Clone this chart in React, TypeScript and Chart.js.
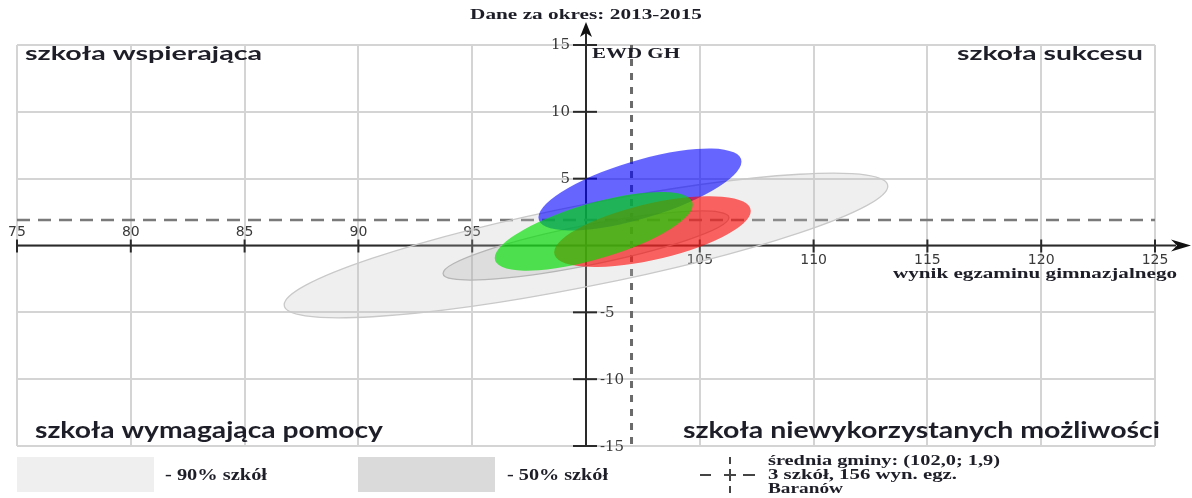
import React, { useEffect, useRef } from 'react';
import { Chart, registerables } from 'chart.js';

Chart.register(...registerables);

// ---------- data ----------
const xMin = 75;
const xMax = 125;
const xStep = 5;
const yMin = -15;
const yMax = 15;
const yStep = 5;

const ellipseLabels = ['90% szkół', '50% szkół', 'szkoła 1', 'szkoła 2', 'szkoła 3'];
const ellipseCenterX = [100, 100, 102.37, 102.92, 100.34];
const ellipseCenterY = [0, 0, 4.19, 1.04, 1.06];
// half of the horizontal span (x units) and the y rise at the span end (conjugate semi-diameter)
const ellipseHalfSpanX = [13.26, 6.28, 4.46, 4.32, 4.35];
const ellipseRiseY = [4.44, 2.09, 2.08, 1.55, 1.99];
// half of the vertical chord through the centre (y units)
const ellipseHalfChordY = [3.1, 1.52, 2.25, 2.15, 2.17];

const meanX = 102.0;
const meanY = 1.9;

const titleText = 'Dane za okres: 2013-2015';
const yAxisTitle = 'EWD GH';
const xAxisTitle = 'wynik egzaminu gimnazjalnego';
const quadrantLabels = [
  'szkoła wspierająca',
  'szkoła sukcesu',
  'szkoła wymagająca pomocy',
  'szkoła niewykorzystanych możliwości',
];
const legendBoxLabels = ['- 90% szkół', '- 50% szkół'];
const legendMeanLines = ['średnia gminy: (102,0; 1,9)', '3 szkół, 156 wyn. egz.', 'Baranów'];

// ---------- styles ----------
const ellipseFill = [
  'rgba(190,190,190,0.25)',
  'rgba(150,150,150,0.2)',
  'rgba(0,0,255,0.6)',
  'rgba(255,0,0,0.6)',
  'rgba(0,225,0,0.65)',
];
const ellipseStroke = ['#c9c9c9', '#b6b6b6', null, null, null];
const legendBoxColors = ['#efefef', '#dadada'];

const W = 1192;
const H = 498;

type TextSpec = {
  text: string;
  x: number;
  y: number;
  font: string;
  align: CanvasTextAlign;
  width: number;
  color: string;
};

function drawFitText(ctx: CanvasRenderingContext2D, t: TextSpec) {
  ctx.save();
  ctx.font = t.font;
  ctx.fillStyle = t.color;
  ctx.textBaseline = 'alphabetic';
  ctx.textAlign = t.align;
  const m = ctx.measureText(t.text).width;
  const sx = m > 0 ? t.width / m : 1;
  ctx.translate(t.x, t.y);
  ctx.scale(sx, 1);
  ctx.fillText(t.text, 0, 0);
  ctx.restore();
}

const serifBold = (s: number) => `bold ${s}px "Liberation Serif", "DejaVu Serif", serif`;
const sansBold = (s: number) => `bold ${s}px Lato, "Open Sans", sans-serif`;

const axesPlugin = {
  id: 'customAxes',
  beforeDatasetsDraw(chart: any) {
    const ctx: CanvasRenderingContext2D = chart.ctx;
    const xs = chart.scales.x;
    const ys = chart.scales.y;
    const area = chart.chartArea;
    const x0 = xs.getPixelForValue(100);
    const y0 = ys.getPixelForValue(0);
    ctx.save();
    ctx.strokeStyle = '#2a2a2a';
    ctx.fillStyle = '#111';
    ctx.lineWidth = 2;
    // x axis
    ctx.beginPath();
    ctx.moveTo(area.left, y0);
    ctx.lineTo(W - 16, y0);
    ctx.stroke();
    ctx.beginPath();
    ctx.moveTo(W - 1, y0);
    ctx.lineTo(W - 21, y0 - 6);
    ctx.lineTo(W - 15, y0);
    ctx.lineTo(W - 21, y0 + 6);
    ctx.closePath();
    ctx.fill();
    // y axis
    ctx.beginPath();
    ctx.moveTo(x0, area.bottom);
    ctx.lineTo(x0, 32);
    ctx.stroke();
    ctx.beginPath();
    ctx.moveTo(x0, 22);
    ctx.lineTo(x0 - 6, 37);
    ctx.lineTo(x0, 33);
    ctx.lineTo(x0 + 6, 37);
    ctx.closePath();
    ctx.fill();
    // ticks
    for (let v = xMin; v <= xMax; v += xStep) {
      if (v === 100) continue;
      const px = xs.getPixelForValue(v);
      ctx.beginPath();
      ctx.moveTo(px, y0 - 6);
      ctx.lineTo(px, y0 + 7);
      ctx.stroke();
    }
    for (let v = yMin; v <= yMax; v += yStep) {
      if (v === 0) continue;
      const py = ys.getPixelForValue(v);
      ctx.beginPath();
      ctx.moveTo(x0 - 13, py);
      ctx.lineTo(x0 + 11, py);
      ctx.stroke();
    }
    // tick labels
    ctx.fillStyle = '#3a3a3a';
    ctx.font = '14px "DejaVu Sans", sans-serif';
    ctx.textAlign = 'center';
    ctx.textBaseline = 'middle';
    for (let v = xMin; v <= xMax; v += xStep) {
      if (v === 100) continue;
      const px = xs.getPixelForValue(v);
      ctx.fillText(String(v), px, v < 100 ? y0 - 13 : y0 + 15);
    }
    ctx.font = '15px "DejaVu Serif", serif';
    for (let v = yMin; v <= yMax; v += yStep) {
      if (v === 0) continue;
      const py = ys.getPixelForValue(v);
      if (v > 0) {
        ctx.textAlign = 'right';
        ctx.fillText(String(v), x0 - 16, py);
      } else {
        ctx.textAlign = 'left';
        ctx.fillText(String(v), x0 + 14, py + 1);
      }
    }
    ctx.restore();
  },
  afterDatasetsDraw(chart: any) {
    const ctx: CanvasRenderingContext2D = chart.ctx;
    const xs = chart.scales.x;
    const ys = chart.scales.y;
    ctx.save();
    for (let i = 0; i < ellipseLabels.length; i++) {
      const cx = xs.getPixelForValue(ellipseCenterX[i]);
      const cy = ys.getPixelForValue(ellipseCenterY[i]);
      const ux = xs.getPixelForValue(ellipseCenterX[i] + ellipseHalfSpanX[i]) - cx;
      const uy = ys.getPixelForValue(ellipseCenterY[i] + ellipseRiseY[i]) - cy;
      const vy = ys.getPixelForValue(ellipseCenterY[i] - ellipseHalfChordY[i]) - cy;
      ctx.save();
      ctx.transform(ux, uy, 0, vy, cx, cy);
      ctx.beginPath();
      ctx.arc(0, 0, 1, 0, Math.PI * 2);
      ctx.restore();
      ctx.fillStyle = ellipseFill[i];
      ctx.fill();
      const st = ellipseStroke[i];
      if (st) {
        ctx.strokeStyle = st;
        ctx.lineWidth = 1.3;
        ctx.stroke();
      }
    }
    ctx.restore();
  },
  afterDraw(chart: any) {
    const ctx: CanvasRenderingContext2D = chart.ctx;
    const dark = '#1e1e28';
    const texts: TextSpec[] = [
      { text: titleText, x: 586, y: 19, font: serifBold(15), align: 'center', width: 232, color: dark },
      { text: yAxisTitle, x: 592, y: 58, font: serifBold(14), align: 'left', width: 88, color: dark },
      { text: xAxisTitle, x: 1177, y: 278, font: serifBold(15), align: 'right', width: 284, color: dark },
      { text: quadrantLabels[0], x: 25, y: 60, font: sansBold(19), align: 'left', width: 237, color: dark },
      { text: quadrantLabels[1], x: 1143, y: 60, font: sansBold(19), align: 'right', width: 186, color: dark },
      { text: quadrantLabels[2], x: 35, y: 438, font: sansBold(22), align: 'left', width: 348, color: dark },
      { text: quadrantLabels[3], x: 1160, y: 438, font: sansBold(22), align: 'right', width: 477, color: dark },
      { text: legendBoxLabels[0], x: 165, y: 480, font: serifBold(16), align: 'left', width: 102, color: dark },
      { text: legendBoxLabels[1], x: 507, y: 480, font: serifBold(16), align: 'left', width: 101, color: dark },
      { text: legendMeanLines[0], x: 768, y: 465, font: serifBold(15), align: 'left', width: 232, color: dark },
      { text: legendMeanLines[1], x: 768, y: 479, font: serifBold(15), align: 'left', width: 189, color: dark },
      { text: legendMeanLines[2], x: 768, y: 493, font: serifBold(15), align: 'left', width: 75, color: dark },
    ];
    ctx.save();
    // legend boxes
    ctx.fillStyle = legendBoxColors[0];
    ctx.fillRect(17, 457, 137, 35);
    ctx.fillStyle = legendBoxColors[1];
    ctx.fillRect(358, 457, 137, 35);
    // legend mean cross
    ctx.strokeStyle = '#444';
    ctx.lineWidth = 2;
    const segs: [number, number, number, number][] = [
      [730, 457, 730, 464],
      [730, 469, 730, 481],
      [730, 486, 730, 493],
      [700, 475, 711, 475],
      [724, 475, 736, 475],
      [743, 475, 755, 475],
    ];
    segs.forEach(([a, b, c, d]) => {
      ctx.beginPath();
      ctx.moveTo(a, b);
      ctx.lineTo(c, d);
      ctx.stroke();
    });
    ctx.restore();
    texts.forEach((t) => drawFitText(ctx, t));
  },
};

export default function App() {
  const ref = useRef<HTMLCanvasElement | null>(null);
  useEffect(() => {
    const canvas = ref.current;
    if (!canvas) return;
    const ellipseDatasets = ellipseLabels.map((label, i) => ({
      type: 'scatter' as const,
      label,
      data: [{ x: ellipseCenterX[i], y: ellipseCenterY[i] }],
      pointRadius: 0,
      showLine: false,
    }));
    const chart = new Chart(canvas, {
      type: 'scatter',
      data: {
        datasets: [
          ...ellipseDatasets,
          {
            label: 'średnia y',
            data: [
              { x: xMin, y: meanY },
              { x: xMax, y: meanY },
            ],
            showLine: true,
            borderColor: '#7a7a7a',
            borderWidth: 2.5,
            borderDash: [13, 8],
            pointRadius: 0,
          },
          {
            label: 'średnia x',
            data: [
              { x: meanX, y: yMax },
              { x: meanX, y: yMin },
            ],
            showLine: true,
            borderColor: '#6a6a6a',
            borderWidth: 3,
            borderDash: [7, 7],
            pointRadius: 0,
          },
        ],
      },
      options: {
        responsive: false,
        animation: false,
        devicePixelRatio: 1,
        layout: { padding: { left: 17, right: 37, top: 45, bottom: 52 } },
        plugins: { legend: { display: false }, tooltip: { enabled: false }, title: { display: false } },
        scales: {
          x: {
            type: 'linear',
            min: xMin,
            max: xMax,
            ticks: { stepSize: xStep, display: false },
            grid: { color: '#d4d4d4', lineWidth: 2, drawTicks: false, tickLength: 0 },
            border: { display: false },
          },
          y: {
            type: 'linear',
            min: yMin,
            max: yMax,
            ticks: { stepSize: yStep, display: false },
            grid: { color: '#d4d4d4', lineWidth: 2, drawTicks: false, tickLength: 0 },
            border: { display: false },
          },
        },
      },
      plugins: [axesPlugin],
    });
    return () => chart.destroy();
  }, []);
  return (
    <div style={{ position: 'fixed', left: 0, top: 0, width: W, height: H, background: '#fff' }}>
      <canvas ref={ref} width={W} height={H} style={{ display: 'block', width: W, height: H }} />
    </div>
  );
}
